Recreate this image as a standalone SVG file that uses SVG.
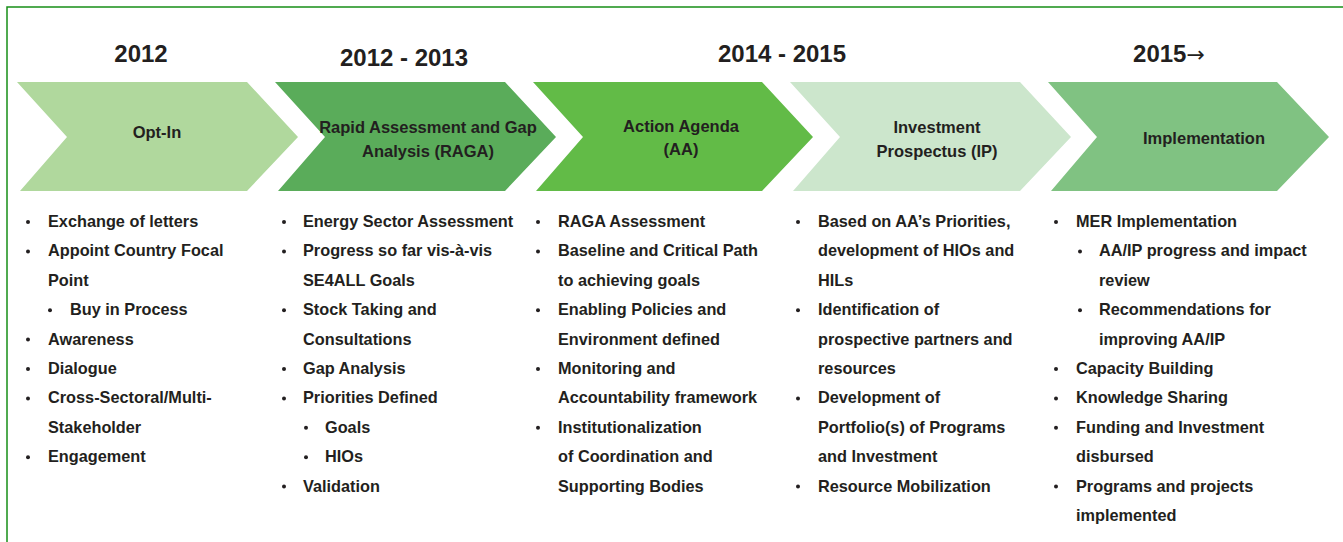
<svg xmlns="http://www.w3.org/2000/svg" width="1343" height="542" viewBox="0 0 1343 542">
<style>
.yr{font-family:"Liberation Sans",Arial,sans-serif;font-weight:bold;font-size:24px;fill:#231f20;text-anchor:middle}
.arr{font-family:"DejaVu Sans",sans-serif;font-weight:normal;font-size:22px}
.lbl{font-family:"Liberation Sans",Arial,sans-serif;font-weight:bold;font-size:16.5px;fill:#231f20;text-anchor:middle}
.b{font-family:"Liberation Sans",Arial,sans-serif;font-weight:bold;font-size:16.3px;fill:#231f20}
.dot{fill:#231f20}
</style>
<rect x="0" y="0" width="1343" height="542" fill="#ffffff"/>
<path d="M7,542 V7 H1343" fill="none" stroke="#178f17" stroke-width="1.5"/>

<g id="years">
<text class="yr" x="141" y="62">2012</text>
<text class="yr" x="404" y="66">2012 - 2013</text>
<text class="yr" x="782" y="62">2014 - 2015</text>
<text class="yr" x="1169" y="62">2015<tspan class="arr">→</tspan></text>
</g>

<g id="optin">
<polygon points="17,82 247,82 298,137 247,191 20,191 67,137" fill="#b0d89d"/>
<text class="lbl" x="157" y="138">Opt-In</text>
</g>
<g id="raga">
<polygon points="275,82 505,82 556,137 505,191 278,191 325,137" fill="#5aac5a"/>
<text class="lbl" x="428" y="133">Rapid Assessment and Gap</text>
<text class="lbl" x="428" y="157">Analysis (RAGA)</text>
</g>
<g id="aa">
<polygon points="533,82 762,82 813,137 762,191 536,191 583,137" fill="#62bb47"/>
<text class="lbl" x="681" y="132">Action Agenda</text>
<text class="lbl" x="681" y="155">(AA)</text>
</g>
<g id="ip">
<polygon points="790,82 1020,82 1071,137 1020,191 793,191 840,137" fill="#cce6cc"/>
<text class="lbl" x="937" y="133">Investment</text>
<text class="lbl" x="937" y="157">Prospectus (IP)</text>
</g>
<g id="impl">
<polygon points="1048,82 1277,82 1329,137 1277,191 1051,191 1097,137" fill="#80c282"/>
<text class="lbl" x="1204" y="144">Implementation</text>
</g>

<g id="list1">
<circle class="dot" cx="28" cy="222" r="2"/><text class="b" x="48" y="227">Exchange of letters</text>
<circle class="dot" cx="28" cy="251.4" r="2"/><text class="b" x="48" y="256.4">Appoint Country Focal</text>
<text class="b" x="48" y="285.8">Point</text>
<circle class="dot" cx="50" cy="310.2" r="2"/><text class="b" x="70" y="315.2">Buy in Process</text>
<circle class="dot" cx="28" cy="339.6" r="2"/><text class="b" x="48" y="344.6">Awareness</text>
<circle class="dot" cx="28" cy="369" r="2"/><text class="b" x="48" y="374">Dialogue</text>
<circle class="dot" cx="28" cy="398.4" r="2"/><text class="b" x="48" y="403.4">Cross-Sectoral/Multi-</text>
<text class="b" x="48" y="432.8">Stakeholder</text>
<circle class="dot" cx="28" cy="457.2" r="2"/><text class="b" x="48" y="462.2">Engagement</text>
</g>

<g id="list2">
<circle class="dot" cx="284" cy="222" r="2"/><text class="b" x="303" y="227">Energy Sector Assessment</text>
<circle class="dot" cx="284" cy="251.4" r="2"/><text class="b" x="303" y="256.4">Progress so far vis-à-vis</text>
<text class="b" x="303" y="285.8">SE4ALL Goals</text>
<circle class="dot" cx="284" cy="310.2" r="2"/><text class="b" x="303" y="315.2">Stock Taking and</text>
<text class="b" x="303" y="344.6">Consultations</text>
<circle class="dot" cx="284" cy="369" r="2"/><text class="b" x="303" y="374">Gap Analysis</text>
<circle class="dot" cx="284" cy="398.4" r="2"/><text class="b" x="303" y="403.4">Priorities Defined</text>
<circle class="dot" cx="306" cy="427.8" r="2"/><text class="b" x="325" y="432.8">Goals</text>
<circle class="dot" cx="306" cy="457.2" r="2"/><text class="b" x="325" y="462.2">HIOs</text>
<circle class="dot" cx="284" cy="486.6" r="2"/><text class="b" x="303" y="491.6">Validation</text>
</g>

<g id="list3">
<circle class="dot" cx="538" cy="222" r="2"/><text class="b" x="558" y="227">RAGA Assessment</text>
<circle class="dot" cx="538" cy="251.4" r="2"/><text class="b" x="558" y="256.4">Baseline and Critical Path</text>
<text class="b" x="558" y="285.8">to achieving goals</text>
<circle class="dot" cx="538" cy="310.2" r="2"/><text class="b" x="558" y="315.2">Enabling Policies and</text>
<text class="b" x="558" y="344.6">Environment defined</text>
<circle class="dot" cx="538" cy="369" r="2"/><text class="b" x="558" y="374">Monitoring and</text>
<text class="b" x="558" y="403.4">Accountability framework</text>
<circle class="dot" cx="538" cy="427.8" r="2"/><text class="b" x="558" y="432.8">Institutionalization</text>
<text class="b" x="558" y="462.2">of Coordination and</text>
<text class="b" x="558" y="491.6">Supporting Bodies</text>
</g>

<g id="list4">
<circle class="dot" cx="798" cy="222" r="2"/><text class="b" x="818" y="227">Based on AA’s Priorities,</text>
<text class="b" x="818" y="256.4">development of HIOs and</text>
<text class="b" x="818" y="285.8">HILs</text>
<circle class="dot" cx="798" cy="310.2" r="2"/><text class="b" x="818" y="315.2">Identification of</text>
<text class="b" x="818" y="344.6">prospective partners and</text>
<text class="b" x="818" y="374">resources</text>
<circle class="dot" cx="798" cy="398.4" r="2"/><text class="b" x="818" y="403.4">Development of</text>
<text class="b" x="818" y="432.8">Portfolio(s) of Programs</text>
<text class="b" x="818" y="462.2">and Investment</text>
<circle class="dot" cx="798" cy="486.6" r="2"/><text class="b" x="818" y="491.6">Resource Mobilization</text>
</g>

<g id="list5">
<circle class="dot" cx="1056" cy="222" r="2"/><text class="b" x="1076" y="227">MER Implementation</text>
<circle class="dot" cx="1080" cy="251.4" r="2"/><text class="b" x="1099" y="256.4">AA/IP progress and impact</text>
<text class="b" x="1099" y="285.8">review</text>
<circle class="dot" cx="1080" cy="310.2" r="2"/><text class="b" x="1099" y="315.2">Recommendations for</text>
<text class="b" x="1099" y="344.6">improving AA/IP</text>
<circle class="dot" cx="1056" cy="369" r="2"/><text class="b" x="1076" y="374">Capacity Building</text>
<circle class="dot" cx="1056" cy="398.4" r="2"/><text class="b" x="1076" y="403.4">Knowledge Sharing</text>
<circle class="dot" cx="1056" cy="427.8" r="2"/><text class="b" x="1076" y="432.8">Funding and Investment</text>
<text class="b" x="1076" y="462.2">disbursed</text>
<circle class="dot" cx="1056" cy="486.6" r="2"/><text class="b" x="1076" y="491.6">Programs and projects</text>
<text class="b" x="1076" y="521">implemented</text>
</g>
</svg>
